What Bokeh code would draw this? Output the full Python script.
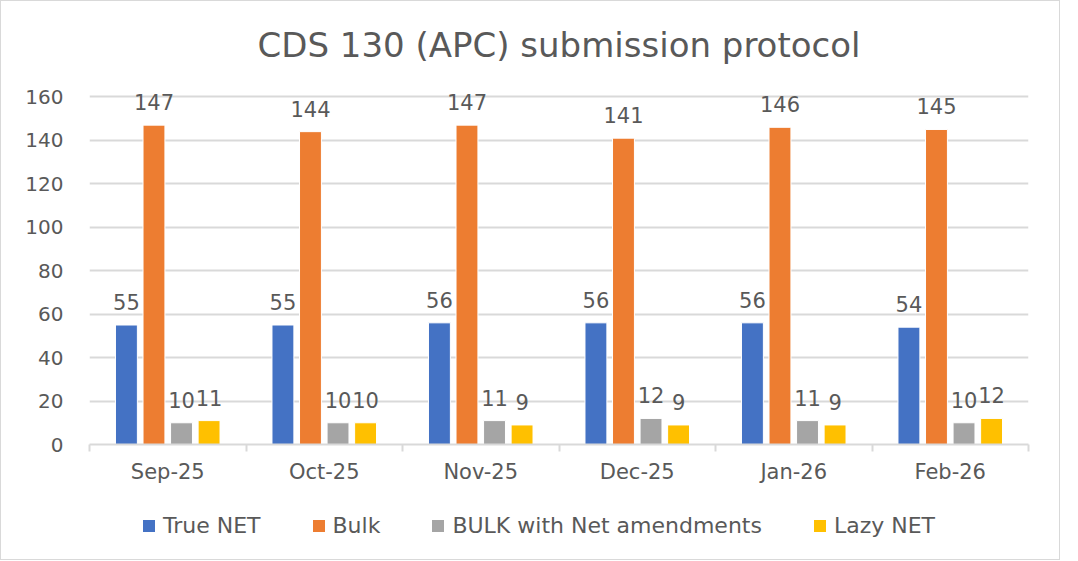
from bokeh.plotting import figure
from bokeh.models import ColumnDataSource, FixedTicker, Legend, LegendItem, Range1d, Title
from bokeh.layouts import column
from bokeh.embed import file_html
from bokeh.resources import INLINE

months = ["Sep-25", "Oct-25", "Nov-25", "Dec-25", "Jan-26", "Feb-26"]
series_names = ["True NET", "Bulk", "BULK with Net amendments", "Lazy NET"]
true_net = [55, 55, 56, 56, 56, 54]
bulk = [147, 144, 147, 141, 146, 145]
bulk_amend = [10, 10, 11, 12, 11, 10]
lazy_net = [11, 10, 9, 9, 9, 12]
colors = ["#4472C4", "#ED7D31", "#A5A5A5", "#FFC000"]
y_ticks = [0, 20, 40, 60, 80, 100, 120, 140, 160]

FONT = "DejaVu Sans"
TXT = "#595959"

p = figure(output_backend="svg", toolbar_location=None,
           x_range=Range1d(0, len(months)), y_range=Range1d(0, 168),
           frame_width=939, frame_height=365,
           min_border_left=88, min_border_right=31, min_border_top=78, min_border_bottom=60)
p.title = Title(text="CDS 130 (APC) submission protocol", align="center",
                text_font=FONT, text_font_size="34px", text_color=TXT,
                text_font_style="normal", offset=0, standoff=29)
p.outline_line_color = None
p.background_fill_color = "white"
p.border_fill_color = "white"

offsets = [-0.264, -0.088, 0.088, 0.264]
bar_w = 0.14
for vals, off, col in zip([true_net, bulk, bulk_amend, lazy_net], offsets, colors):
    xs = [i + 0.5 + off for i in range(len(months))]
    src = ColumnDataSource(dict(x=xs, top=vals, lab=[str(v) for v in vals]))
    p.vbar(x="x", top="top", width=bar_w, bottom=0, source=src,
           fill_color=col, line_color="white", line_width=1)
    p.text(x="x", y="top", text="lab", source=src, text_align="center",
           text_baseline="middle", y_offset=-23, text_color=TXT,
           text_font={"value": FONT}, text_font_size="21px")

# x axis
p.xaxis.ticker = FixedTicker(ticks=[i + 0.5 for i in range(len(months))],
                             minor_ticks=list(range(len(months) + 1)))
p.xaxis.major_label_overrides = {i + 0.5: m for i, m in enumerate(months)}
p.xaxis.major_tick_line_color = None
p.xaxis.major_tick_out = 0
p.xaxis.major_tick_in = 0
p.xaxis.minor_tick_out = 7
p.xaxis.minor_tick_in = 0
p.xaxis.minor_tick_line_color = "#D9D9D9"
p.xaxis.minor_tick_line_width = 2
p.xaxis.axis_line_color = "#D9D9D9"
p.xaxis.axis_line_width = 2
p.xaxis.major_label_text_font = FONT
p.xaxis.major_label_text_font_size = "21px"
p.xaxis.major_label_text_color = TXT
p.xaxis.major_label_standoff = 8

# y axis
p.yaxis.ticker = FixedTicker(ticks=y_ticks)
p.yaxis.axis_line_color = None
p.yaxis.major_tick_line_color = None
p.yaxis.minor_tick_line_color = None
p.yaxis.major_tick_out = 0
p.yaxis.major_label_text_font = FONT
p.yaxis.major_label_text_font_size = "20px"
p.yaxis.major_label_text_color = TXT
p.yaxis.major_label_standoff = 26

p.xgrid.grid_line_color = None
p.ygrid.grid_line_color = "#D9D9D9"
p.ygrid.grid_line_width = 2

# legend strip below the chart
lg = figure(width=1058, height=55, output_backend="svg", toolbar_location=None,
            x_range=Range1d(0, 1), y_range=Range1d(0, 1),
            x_axis_type=None, y_axis_type=None,
            min_border_left=0, min_border_right=0, min_border_top=0, min_border_bottom=0)
lg.outline_line_color = None
lg.xgrid.grid_line_color = None
lg.ygrid.grid_line_color = None
lg.background_fill_color = "white"
lg.border_fill_color = "white"
items = []
for name, col in zip(series_names, colors):
    # proxy renderer placed below the visible range, only used for the legend swatch
    r = lg.vbar(x=[0.5], top=[-5], bottom=[-6], width=0.1, fill_color=col, line_color=None)
    items.append(LegendItem(label=name, renderers=[r]))
legend = Legend(items=items, orientation="horizontal", location=(52, 21),
                label_text_font=FONT, label_text_font_size="22px", label_text_color=TXT,
                glyph_width=15, glyph_height=15, label_standoff=7, spacing=50,
                border_line_color=None, background_fill_alpha=0, margin=0, padding=4)
lg.add_layout(legend, "center")

layout = column(p, lg, spacing=0)
layout.styles = {"border": "1px solid #D9D9D9"}

open("out.html", "w").write(file_html(layout, INLINE))
